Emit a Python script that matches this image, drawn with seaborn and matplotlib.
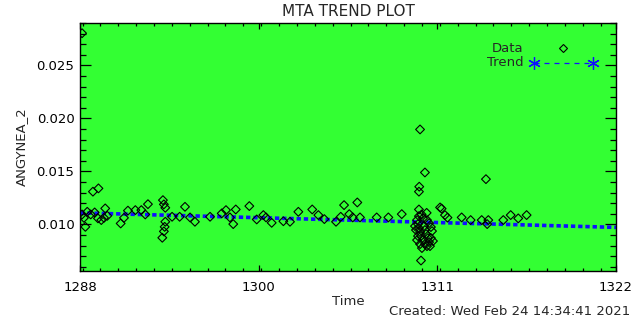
import matplotlib
matplotlib.use("Agg")
import matplotlib.pyplot as plt
import seaborn as sns
import pandas as pd
from matplotlib.ticker import FixedLocator, MultipleLocator, FuncFormatter

# data
time = [
    1288.53, 1289.22, 1289.57, 1290.00, 1288.74, 1288.86, 1289.08, 1289.33, 1289.54, 1289.75,
    1289.92, 1290.13, 1288.65, 1288.53, 1290.98, 1291.19, 1291.44, 1291.91, 1292.29, 1292.71,
    1292.54, 1293.66, 1293.72, 1293.81, 1293.81, 1293.77, 1293.72, 1293.62, 1294.24, 1294.72,
    1295.06, 1295.38, 1295.69, 1296.65, 1297.39, 1297.66, 1297.91, 1298.12, 1298.28, 1299.14,
    1299.61, 1300.03, 1300.20, 1300.56, 1301.72, 1302.25, 1303.13, 1303.52, 1301.30, 1303.90,
    1304.64, 1305.15, 1304.94, 1305.48, 1305.70, 1305.99, 1306.16, 1307.22, 1307.96, 1308.81,
    1309.97, 1310.28, 1309.92, 1309.90, 1310.03, 1309.90, 1310.07, 1310.39, 1311.24, 1311.34,
    1311.55, 1311.71,
    1309.78, 1309.84, 1309.90, 1309.97, 1309.84, 1309.78, 1309.97, 1310.09, 1310.22, 1310.28,
    1310.35, 1310.47, 1310.54, 1310.60, 1310.16, 1310.41, 1310.54, 1310.66, 1310.73, 1310.03,
    1310.16, 1310.28, 1310.41, 1309.90, 1309.71, 1309.65, 1310.66, 1310.79,
    1312.61, 1313.18, 1313.88, 1314.15, 1314.30, 1314.23, 1315.25, 1315.72, 1316.20, 1316.73,
]
value = [
    0.02804, 0.01309, 0.01340, 0.01151, 0.00977, 0.01119, 0.01094, 0.01113, 0.01057, 0.01041,
    0.01062, 0.01081, 0.01062, 0.01094, 0.01009, 0.01062, 0.01130, 0.01135, 0.01135, 0.01191,
    0.01094, 0.01229, 0.01189, 0.01157, 0.01025, 0.00977, 0.00934, 0.00874, 0.01072, 0.01072,
    0.01166, 0.01066, 0.01025, 0.01072, 0.01104, 0.01135, 0.01066, 0.01003, 0.01141, 0.01173,
    0.01047, 0.01088, 0.01066, 0.01015, 0.01025, 0.01119, 0.01141, 0.01088, 0.01030, 0.01050,
    0.01025, 0.01182, 0.01072, 0.01097, 0.01066, 0.01207, 0.01066, 0.01066, 0.01066, 0.01097,
    0.01896, 0.01490, 0.01356, 0.01309, 0.00659, 0.01141, 0.01094, 0.01109, 0.01160, 0.01149,
    0.01088, 0.01064,
    0.01041, 0.01003, 0.00965, 0.00928, 0.00890, 0.00852, 0.00814, 0.00777, 0.00984, 0.00947,
    0.00909, 0.00871, 0.00833, 0.00795, 0.01059, 0.01041, 0.01012, 0.00975, 0.00937, 0.00890,
    0.00852, 0.00814, 0.00795, 0.01078, 0.00947, 0.00984, 0.00871, 0.00843,
    0.01066, 0.01041, 0.01041, 0.01427, 0.01041, 0.01003, 0.01041, 0.01088, 0.01057, 0.01088,
]
trend_time = [1288.4, 1322.4]
trend_value = [0.01109, 0.00972]

x_ticks = [1288.4, 1299.733, 1311.067, 1322.4]
y_ticks = [0.010, 0.015, 0.020, 0.025]

df = pd.DataFrame({"Time": time, "Value": value})
trend = pd.DataFrame({"Time": trend_time, "Value": trend_value})

sns.set_style("ticks")
plt.rcParams["font.family"] = ["DejaVu Sans"]

fig = plt.figure(figsize=(6.4, 3.2), dpi=100)
ax = fig.add_axes([0.125, 0.153, 0.8375, 0.775])
ax.set_facecolor("#33ff33")

sns.lineplot(data=trend, x="Time", y="Value", ax=ax, color="#1010ff",
             linestyle=(0, (1.2, 0.8)), linewidth=2.6)
sns.scatterplot(data=df, x="Time", y="Value", ax=ax, marker="D", s=20,
                facecolor="none", edgecolor="black", linewidth=0.8, zorder=3)

ax.set_xlim(1288.4, 1322.4)
ax.set_ylim(0.0056, 0.0290)
ax.xaxis.set_major_locator(FixedLocator(x_ticks))
ax.xaxis.set_minor_locator(MultipleLocator((x_ticks[1] - x_ticks[0]) / 10))
ax.xaxis.set_major_formatter(FuncFormatter(lambda v, p: "%d" % round(v)))
ax.yaxis.set_major_locator(FixedLocator(y_ticks))
ax.yaxis.set_minor_locator(MultipleLocator(0.001))
ax.yaxis.set_major_formatter(FuncFormatter(lambda v, p: "%.3f" % v))

ax.tick_params(axis="both", which="both", direction="in", top=True, right=True,
               colors="black", labelsize=9.5, width=0.9)
ax.tick_params(axis="x", which="major", length=4, pad=7)
ax.tick_params(axis="x", which="minor", length=2.2)
ax.tick_params(axis="y", which="major", length=8, pad=4)
ax.tick_params(axis="y", which="minor", length=4)
for s in ax.spines.values():
    s.set_color("black")
    s.set_linewidth(1.0)

ax.set_xlabel("")
ax.set_ylabel("ANGYNEA_2", fontsize=9.5, labelpad=6)
ax.set_title("MTA TREND PLOT", fontsize=11, pad=5)

# legend drawn in axes fraction
ax.text(0.828, 0.899, "Data", transform=ax.transAxes, ha="right", va="center", fontsize=9.5)
ax.plot([0.901], [0.899], transform=ax.transAxes, marker="D", markersize=4.5,
        markerfacecolor="none", markeredgecolor="black", markeredgewidth=0.8)
ax.text(0.828, 0.840, "Trend", transform=ax.transAxes, ha="right", va="center", fontsize=9.5)
ax.plot([0.847, 0.957], [0.840, 0.840], transform=ax.transAxes, color="#1010ff",
        linestyle=(0, (4, 4)), linewidth=0.9, marker=(6, 2, 0), markersize=9,
        markeredgewidth=0.9)

fig.text(0.544, 0.058, "Time", ha="center", va="center", fontsize=9.5)
fig.text(0.984, 0.027, "Created: Wed Feb 24 14:34:41 2021", ha="right", va="center",
         fontsize=9.5)

fig.savefig("out.png", dpi=100, facecolor="white")
